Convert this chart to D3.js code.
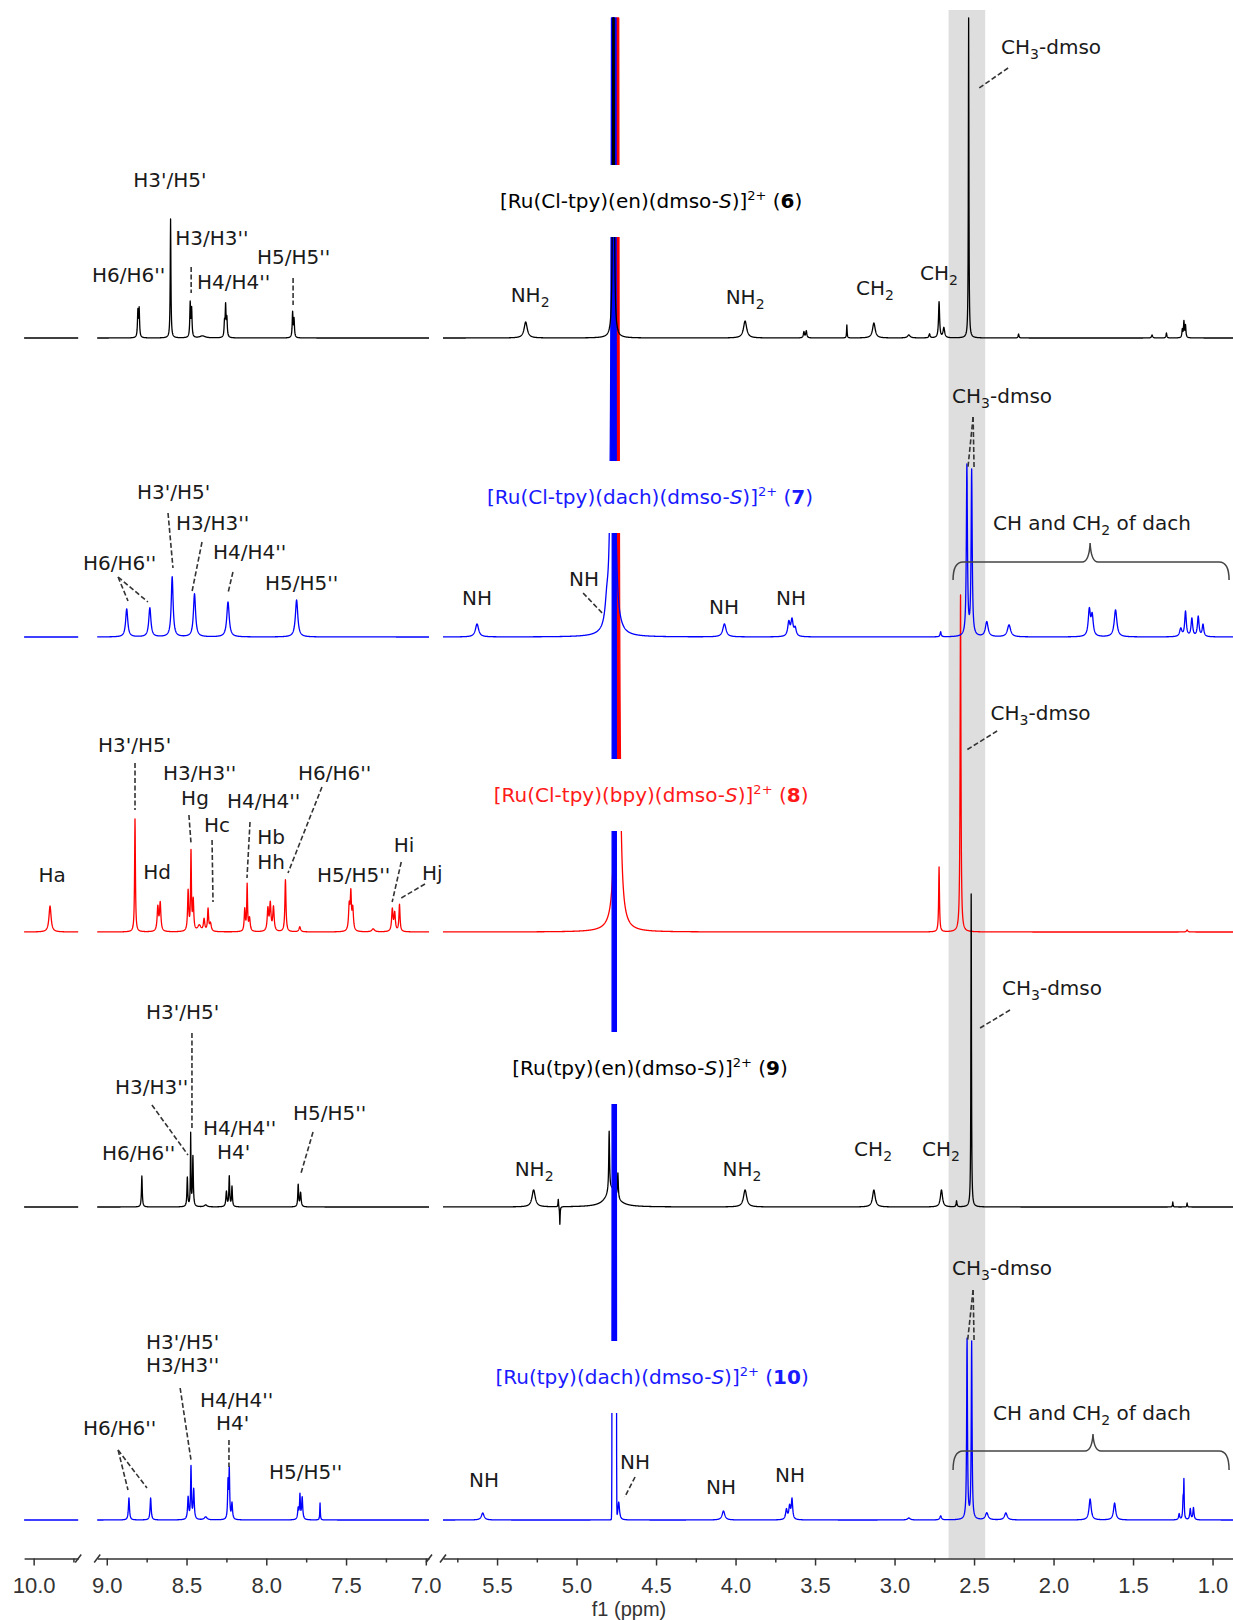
<!DOCTYPE html>
<html>
<head>
<meta charset="utf-8">
<script src="https://cdn.jsdelivr.net/npm/d3@7"></script>
<style>
  body { margin: 0; background: #fff; }
  svg { display: block; }
</style>
</head>
<body>
<svg id="chart" width="1233" height="1620"></svg>
<script>
// ppm ranges of the three axis pieces (left to right)
const segments = [[10.06, 9.72], [9.06, 6.98], [5.84, 0.86]];
const majorTicks = [[10.0], [9.0, 8.5, 8.0, 7.5, 7.0], [5.5, 5.0, 4.5, 4.0, 3.5, 3.0, 2.5, 2.0, 1.5, 1.0]];
const minorTicks = [[9.75], [8.75, 8.25, 7.75, 7.25], [5.75, 5.25, 4.75, 4.25, 3.75, 3.25, 2.75, 2.25, 1.75, 1.25]];
const dmsoBand = [2.66, 2.43];

// peaks: [ppm, height, half width (ppm), shape]
const peaks6 = [
  [8.805, 26, 0.003], [8.797, 28, 0.003], [8.60, 119, 0.0025],
  [8.477, 34, 0.003], [8.468, 28, 0.003], [8.40, 2, 0.02],
  [8.262, 14, 0.003], [8.255, 31, 0.003], [8.247, 18, 0.003],
  [7.835, 25, 0.003], [7.826, 18, 0.003],
  [5.32, 16, 0.012], [4.768, 10000, 0.0008], [3.94, 17, 0.012],
  [3.57, 6, 0.004], [3.555, 7, 0.004], [3.30, 13, 0.002], [3.13, 15, 0.01],
  [2.91, 3, 0.01], [2.78, 4, 0.004], [2.72, 36, 0.004], [2.69, 10, 0.006],
  [2.534, 320, 0.002], [2.22, 4, 0.003], [1.38, 3, 0.004], [1.29, 5, 0.003],
  [1.19, 8, 0.003], [1.18, 16, 0.003], [1.17, 12, 0.003]
];
const peaks7 = [
  [8.875, 28, 0.008], [8.73, 29, 0.008], [8.59, 60, 0.007], [8.45, 43, 0.008],
  [8.24, 35, 0.009], [7.81, 37, 0.009],
  [5.626, 13, 0.012], [4.81, 18, 0.012], [4.772, 10000, 0.0022], [4.07, 13, 0.012],
  [3.665, 14, 0.008], [3.645, 16, 0.008], [3.625, 8, 0.008], [2.71, 5, 0.004],
  [2.545, 170, 0.004], [2.515, 165, 0.004], [2.42, 15, 0.01], [2.28, 12, 0.012],
  [1.775, 26, 0.008], [1.757, 20, 0.008], [1.61, 27, 0.01],
  [1.20, 8, 0.008], [1.17, 25, 0.006], [1.13, 18, 0.006], [1.09, 20, 0.006], [1.06, 12, 0.006]
];
const peaks8 = [
  [9.897, 26, 0.008], [8.823, 113, 0.003],
  [8.68, 24, 0.005], [8.665, 28, 0.005],
  [8.49, 40, 0.004], [8.472, 78, 0.003], [8.458, 30, 0.004], [8.42, 6, 0.012],
  [8.39, 12, 0.005], [8.365, 22, 0.004], [8.35, 8, 0.006],
  [8.135, 22, 0.004], [8.12, 46, 0.003], [8.105, 13, 0.005],
  [7.99, 22, 0.005], [7.975, 27, 0.005], [7.955, 24, 0.005],
  [7.88, 52, 0.004], [7.79, 5, 0.006],
  [7.48, 25, 0.005], [7.47, 35, 0.004], [7.458, 22, 0.005], [7.33, 3, 0.01],
  [7.21, 22, 0.005], [7.195, 18, 0.005], [7.165, 27, 0.004],
  [4.742, 10000, 0.0024], [2.72, 65, 0.003], [2.585, 337, 0.003], [1.16, 2, 0.005]
];
const peaks9 = [
  [8.78, 31, 0.003], [8.495, 29, 0.003], [8.474, 72, 0.002], [8.46, 50, 0.003],
  [8.38, 2, 0.01], [8.25, 15, 0.004], [8.232, 30, 0.003], [8.215, 20, 0.003],
  [7.80, 22, 0.003], [7.785, 14, 0.004],
  [5.27, 17, 0.012], [5.115, 8, 0.002], [5.105, -18, 0.002],
  [4.78, 18, 0.04], [4.795, 60, 0.003], [4.74, 25, 0.003],
  [3.94, 17, 0.012], [3.13, 17, 0.01], [2.705, 17, 0.008], [2.61, 6, 0.003],
  [2.518, 313, 0.002], [1.25, 5, 0.002], [1.16, 4, 0.002]
];
const peaks10 = [
  [8.861, 22, 0.004], [8.725, 22, 0.004],
  [8.49, 22, 0.004], [8.472, 52, 0.003], [8.455, 30, 0.004], [8.38, 3, 0.01],
  [8.24, 36, 0.003], [8.232, 48, 0.003], [8.215, 16, 0.004],
  [7.80, 11, 0.004], [7.789, 24, 0.003], [7.775, 22, 0.004], [7.663, 17, 0.002],
  [5.59, 7, 0.01], [4.763, 1e6, 0.0034, 'g'], [4.735, 18, 0.006], [4.076, 9, 0.01],
  [3.68, 10, 0.006], [3.66, 13, 0.006], [3.645, 20, 0.005],
  [2.91, 2, 0.01], [2.71, 4, 0.006], [2.544, 180, 0.003], [2.515, 177, 0.003],
  [2.42, 7, 0.01], [2.30, 7, 0.01], [1.77, 21, 0.008], [1.616, 17, 0.008],
  [1.21, 6, 0.004], [1.185, 20, 0.003], [1.18, 36, 0.002], [1.14, 11, 0.004], [1.12, 12, 0.004]
];

// compound names, ^{} superscript, _{} subscript, i{} italic, b{} bold
const compounds = [
  "[Ru(Cl-tpy)(en)(dmso-i{S})]^{2+} (b{6})",
  "[Ru(Cl-tpy)(dach)(dmso-i{S})]^{2+} (b{7})",
  "[Ru(Cl-tpy)(bpy)(dmso-i{S})]^{2+} (b{8})",
  "[Ru(tpy)(en)(dmso-i{S})]^{2+} (b{9})",
  "[Ru(tpy)(dach)(dmso-i{S})]^{2+} (b{10})"
];
const compoundPos = [[4.531, -137], [4.538, -140], [4.531, -137], [4.538, -139], [4.525, -143]];

// peak labels: [text, ppm, offset above baseline, anchor]
const labels6 = [
  ["H3'/H5'", 8.604, -158, 'm'], ["H3/H3''", 8.571, -100, 's'], ["H6/H6''", 9.093, -63, 's'],
  ["H4/H4''", 8.434, -56, 's'], ["H5/H5''", 8.058, -81, 's'],
  ["NH_{2}", 5.292, -43, 'm'], ["NH_{2}", 3.940, -41, 'm'], ["CH_{2}", 3.123, -50, 'm'],
  ["CH_{2}", 2.720, -65, 'm'], ["CH_{3}-dmso", 2.330, -291, 's']
];
const labels7 = [
  ["H3'/H5'", 8.810, -145, 's'], ["H3/H3''", 8.566, -114, 's'], ["H6/H6''", 9.149, -74, 's'],
  ["H4/H4''", 8.334, -85, 's'], ["H5/H5''", 8.008, -54, 's'],
  ["NH", 5.626, -39, 'm'], ["NH", 4.953, -58, 'm'], ["NH", 4.072, -30, 'm'], ["NH", 3.651, -39, 'm'],
  ["CH_{3}-dmso", 2.638, -241, 's'], ["CH and CH_{2} of dach", 2.381, -114, 's']
];
const labels8 = [
  ["Ha", 9.884, -57, 'm'], ["H3'/H5'", 9.055, -187, 's'], ["H3/H3''", 8.648, -159, 's'],
  ["Hg", 8.447, -134, 'm'], ["Hc", 8.309, -107, 'm'], ["H4/H4''", 8.246, -131, 's'],
  ["Hb", 7.970, -95, 'm'], ["Hh", 7.970, -70, 'm'], ["H6/H6''", 7.801, -159, 's'],
  ["Hd", 8.685, -60, 'm'], ["H5/H5''", 7.682, -57, 's'], ["Hi", 7.136, -87, 'm'],
  ["Hj", 6.96, -59, 'm'], ["CH_{3}-dmso", 2.396, -219, 's']
];
const labels9 = [
  ["H3'/H5'", 8.754, -195, 's'], ["H3/H3''", 8.949, -120, 's'], ["H6/H6''", 9.030, -54, 's'],
  ["H4/H4''", 8.397, -79, 's'], ["H4'", 8.309, -55, 's'], ["H5/H5''", 7.832, -94, 's'],
  ["NH_{2}", 5.267, -38, 'm'], ["NH_{2}", 3.959, -38, 'm'], ["CH_{2}", 3.135, -58, 'm'],
  ["CH_{2}", 2.708, -58, 'm'], ["CH_{3}-dmso", 2.324, -219, 's']
];
const labels10 = [
  ["H3'/H5'", 8.754, -178, 's'], ["H3/H3''", 8.754, -155, 's'], ["H6/H6''", 9.149, -92, 's'],
  ["H4/H4''", 8.416, -120, 's'], ["H4'", 8.315, -97, 's'], ["H5/H5''", 7.983, -48, 's'],
  ["NH", 5.582, -40, 'm'], ["NH", 4.632, -58, 'm'], ["NH", 4.091, -33, 'm'], ["NH", 3.657, -45, 'm'],
  ["CH_{3}-dmso", 2.638, -252, 's'], ["CH and CH_{2} of dach", 2.381, -107, 's']
];

// dashed leader lines: [ppm1, dy1, ppm2, dy2]
const leaders6 = [[8.471, -71, 8.471, -45], [7.832, -60, 7.832, -33], [2.286, -270, 2.468, -250]];
const leaders7 = [
  [8.616, -124, 8.585, -69], [8.403, -95, 8.466, -45], [8.209, -65, 8.240, -44],
  [8.929, -60, 8.867, -36], [8.929, -60, 8.742, -35], [4.959, -44, 4.827, -22],
  [2.506, -220, 2.538, -170], [2.506, -220, 2.500, -170]
];
const leaders8 = [
  [8.823, -169, 8.823, -122], [8.485, -117, 8.472, -89], [8.340, -92, 8.334, -30],
  [8.102, -110, 8.121, -54], [7.651, -145, 7.864, -59], [7.154, -70, 7.211, -30],
  [7.005, -48, 7.154, -34], [2.355, -201, 2.547, -182]
];
const leaders9 = [[8.466, -174, 8.466, -79], [8.717, -102, 8.491, -52], [7.707, -75, 7.782, -34], [2.274, -197, 2.462, -179]];
const leaders10 = [
  [8.540, -132, 8.472, -60], [8.929, -70, 8.867, -30], [8.929, -70, 8.748, -32],
  [8.234, -80, 8.234, -53], [4.632, -43, 4.697, -23],
  [2.506, -230, 2.540, -180], [2.506, -230, 2.500, -180]
];

// braces over the dach signals: [left ppm, apex ppm, right ppm]
const brace7 = [2.632, 1.770, 0.896];
const brace10 = [2.632, 1.752, 0.896];

const BLUE = '#1a1aff', RED = '#ff1a1a';
const spectra = [
  { peaks: peaks6, labels: labels6, leaders: leaders6, base: 338, color: '#000', text: '#000' },
  { peaks: peaks7, labels: labels7, leaders: leaders7, base: 637, color: '#0000ff', text: BLUE, brace: brace7, braceY: [-75, -57, -94] },
  { peaks: peaks8, labels: labels8, leaders: leaders8, base: 932, color: '#ff0000', text: RED },
  { peaks: peaks9, labels: labels9, leaders: leaders9, base: 1207, color: '#000', text: '#000' },
  { peaks: peaks10, labels: labels10, leaders: leaders10, base: 1520, color: '#0000ff', text: BLUE, brace: brace10, braceY: [-69, -50, -86] }
];

const svg = d3.select('#chart');
const segRanges = [[24.1, 78.2], [97.2, 429.0], [443.0, 1234.8]];
const xs = segments.map((d, i) => d3.scaleLinear().domain(d).range(segRanges[i]));
const X = p => p >= 9.4 ? xs[0](p) : p >= 6.0 ? xs[1](p) : xs[2](p);
const axisY = 1558.5;
const LABEL_FONT = "'DejaVu Sans', Verdana, sans-serif";

// grey band behind the dmso signals
svg.append('rect')
  .attr('x', X(dmsoBand[0])).attr('width', X(dmsoBand[1]) - X(dmsoBand[0]))
  .attr('y', 10).attr('height', axisY - 10)
  .attr('fill', '#dedede');

function intensity(peaks, p) {
  let v = 0;
  for (const [c, h, w, s] of peaks) {
    const t = (p - c) / w;
    v += s === 'g' ? h * Math.exp(-0.5 * t * t) : h / (1 + t * t);
  }
  return v;
}

function sample(peaks, seg) {
  const [hi, lo] = seg;
  const pts = d3.range(lo, hi, 0.0012);
  pts.push(hi);
  peaks.forEach(pk => { if (pk[0] < hi && pk[0] > lo) pts.push(pk[0]); });
  pts.sort((a, b) => b - a);
  return pts.map(p => ({ p, v: intensity(peaks, p) }));
}

// traces; drawing order decides which solvent column shows on top
[2, 3, 1, 4, 0].forEach(i => {
  const s = spectra[i];
  const y = d3.scaleLinear().domain([-60, s.base - 18]).range([s.base + 60, 18]).clamp(true);
  const line = d3.line().x(d => X(d.p)).y(d => y(d.v));
  const area = d3.area().x(d => X(d.p)).y0(d => y(Math.min(d.v, 150))).y1(d => y(d.v));
  const g = svg.append('g');
  segments.forEach(seg => {
    const data = sample(s.peaks, seg);
    g.append('path').attr('d', area(data)).attr('fill', s.color);
    g.append('path').attr('d', line(data))
      .attr('fill', 'none').attr('stroke', s.color)
      .attr('stroke-width', 1.3).attr('stroke-linejoin', 'round');
  });
});

function rich(sel, str, small) {
  const parts = str.split(/([_^ib]\{[^}]*\})/).filter(d => d);
  let shift = 0;
  parts.forEach(part => {
    const m = part.match(/^([_^ib])\{([^}]*)\}$/);
    const t = sel.append('tspan');
    if (!m) {
      t.text(part);
      if (shift) t.attr('dy', -shift);
      shift = 0;
      return;
    }
    t.text(m[2]);
    if (m[1] === '_' || m[1] === '^') {
      const d = m[1] === '_' ? 5 : -8;
      t.attr('dy', d - shift).attr('font-size', small);
      shift = d;
    } else {
      if (shift) t.attr('dy', -shift);
      shift = 0;
      if (m[1] === 'i') t.attr('font-style', 'italic');
      else t.attr('font-weight', 'bold');
    }
  });
}

// annotations
spectra.forEach(s => {
  const g = svg.append('g');
  g.selectAll('line.lead').data(s.leaders).join('line')
    .attr('class', 'lead')
    .attr('x1', d => X(d[0])).attr('y1', d => s.base + d[1])
    .attr('x2', d => X(d[2])).attr('y2', d => s.base + d[3])
    .attr('stroke', '#333').attr('stroke-width', 1.6).attr('stroke-dasharray', '5,2.5');

  s.labels.forEach(([txt, p, dy, anchor]) => {
    const t = g.append('text')
      .attr('x', X(p)).attr('y', s.base + dy + 7)
      .attr('text-anchor', anchor === 'm' ? 'middle' : 'start')
      .attr('font-family', LABEL_FONT).attr('font-size', 20).attr('fill', '#1a1a1a');
    rich(t, txt, 14);
  });

  if (s.brace) {
    const [xl, xa, xr] = s.brace.map(X);
    const [yl, ye, ya] = s.braceY.map(d => s.base + d);
    const path = d3.path();
    path.moveTo(xl, ye);
    path.quadraticCurveTo(xl, yl, xl + 10, yl);
    path.lineTo(xa - 8, yl);
    path.quadraticCurveTo(xa - 1, yl, xa, ya);
    path.quadraticCurveTo(xa + 1, yl, xa + 8, yl);
    path.lineTo(xr - 10, yl);
    path.quadraticCurveTo(xr, yl, xr, ye);
    g.append('path').attr('d', path.toString())
      .attr('fill', 'none').attr('stroke', '#444').attr('stroke-width', 1.5);
  }
});

// compound names, on a white box that interrupts the solvent columns
spectra.forEach((s, i) => {
  const [p, dy] = compoundPos[i];
  const g = svg.append('g');
  const t = g.append('text')
    .attr('x', X(p)).attr('y', s.base + dy + 7)
    .attr('text-anchor', 'middle')
    .attr('font-family', LABEL_FONT).attr('font-size', 20).attr('fill', s.text);
  rich(t, compounds[i], 13);
  const bb = t.node().getBBox();
  g.insert('rect', 'text')
    .attr('x', bb.x - 5).attr('width', bb.width + 10)
    .attr('y', s.base + dy - 36).attr('height', 72)
    .attr('fill', '#fff');
});

// broken x axis
const axG = svg.append('g').attr('transform', `translate(0,${axisY})`);
xs.forEach((x, i) => {
  axG.append('g')
    .call(d3.axisBottom(x).tickValues(majorTicks[i]).tickFormat(d3.format('.1f'))
      .tickSize(7).tickSizeOuter(0).tickPadding(12))
    .call(a => a.selectAll('line, path').attr('stroke', '#333').attr('stroke-width', 1.5))
    .call(a => a.selectAll('text').attr('font-family', "'Liberation Sans', Arial, sans-serif")
      .attr('font-size', 22).attr('fill', '#333'));
  axG.append('g')
    .call(d3.axisBottom(x).tickValues(minorTicks[i]).tickFormat('').tickSize(4))
    .call(a => a.select('.domain').remove())
    .call(a => a.selectAll('line').attr('stroke', '#333').attr('stroke-width', 1.5));
});
// break marks
const breaks = [segments[0][1], segments[1][0], segments[1][1], segments[2][0]];
axG.selectAll('line.brk').data(breaks).join('line')
  .attr('class', 'brk')
  .attr('x1', d => X(d) - 3).attr('y1', 4)
  .attr('x2', d => X(d) + 3).attr('y2', -4)
  .attr('stroke', '#333').attr('stroke-width', 1.5);

svg.append('text')
  .attr('x', 629).attr('y', 1615.5)
  .attr('text-anchor', 'middle')
  .attr('font-family', "'Liberation Sans', Arial, sans-serif")
  .attr('font-size', 20).attr('fill', '#333')
  .text('f1 (ppm)');
</script>
</body>
</html>
